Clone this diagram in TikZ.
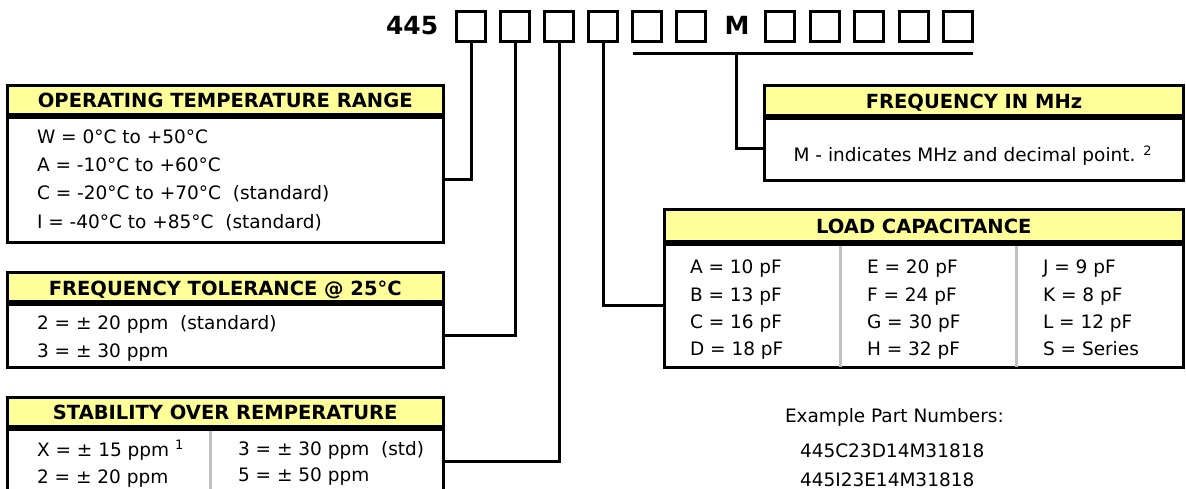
\documentclass[tikz,border=0pt]{standalone}
\usepackage{fontspec}
\setmainfont{DejaVu Sans}
\usetikzlibrary{positioning}
\definecolor{hdryellow}{HTML}{FFFF99}
\definecolor{sepgray}{HTML}{C0C0C0}

\begin{document}
\begin{tikzpicture}[
		x=1pt,y=-1pt,
		every node/.style={inner sep=0pt,outer sep=0pt},
		digit/.style={draw,line width=3pt,minimum width=29pt,minimum height=30pt},
		big/.style={font=\fontsize{25}{30}\selectfont\bfseries},
		hdr/.style={draw,line width=3pt,fill=hdryellow,anchor=north west,
			text height=14.2pt,text depth=0pt,font=\fontsize{19.5}{23}\selectfont\bfseries},
		body/.style={draw,line width=3pt},
		lbl/.style={anchor=base west,font=\fontsize{18.5}{22}\selectfont},
		sep/.style={draw=sepgray,line width=3pt},
		conn/.style={line width=3pt}
		]
		\useasboundingbox (0,0) rectangle (1186,489);
		
		% part number boxes
		\node[big,anchor=base west] (pre) at (386,35) {445};
		\node[digit] (b1) at (471,26.5) {};
		\node[digit] (b2) at (515,26.5) {};
		\node[digit] (b3) at (559,26.5) {};
		\node[digit] (b4) at (603,26.5) {};
		\node[digit] (b5) at (647,26.5) {};
		\node[digit] (b6) at (691,26.5) {};
		\node[big,anchor=base] (mk) at (737,35) {M};
		\node[digit] (b7) at (780,26.5) {};
		\node[digit] (b8) at (824.5,26.5) {};
		\node[digit] (b9) at (869,26.5) {};
		\node[digit] (b10) at (913.5,26.5) {};
		\node[digit] (b11) at (958,26.5) {};
		
		% operating temperature
		\node[hdr,minimum width=435.5pt,minimum height=31pt] (othdr) at (7.5,85.3) {OPERATING TEMPERATURE RANGE};
		\node[body,below=0pt of othdr,minimum width=435.5pt,minimum height=126pt] (otbody) {};
		\draw[line width=6pt] (othdr.south west) -- (othdr.south east);
		\node[lbl] (ot1) at (37,143.3) {W = 0°C to +50°C};
		\node[lbl] (ot2) at (37,171.7) {A = -10°C to +60°C};
		\node[lbl] (ot3) at (37,200) {C = -20°C to +70°C~ (standard)};
		\node[lbl] (ot4) at (37,228.3) {I = -40°C to +85°C~ (standard)};
		
		% frequency tolerance
		\node[hdr,minimum width=435.5pt,minimum height=30.6pt] (fthdr) at (7.5,272.7) {FREQUENCY TOLERANCE @ 25°C};
		\node[body,below=0pt of fthdr,minimum width=435.5pt,minimum height=63.7pt] (ftbody) {};
		\draw[line width=6pt] (fthdr.south west) -- (fthdr.south east);
		\node[lbl] (ft1) at (37,329) {2 = ± 20 ppm~ (standard)};
		\node[lbl] (ft2) at (37,357.3) {3 = ± 30 ppm};
		
		% stability
		\node[hdr,minimum width=435.5pt,minimum height=31pt] (sthdr) at (7.5,397.3) {STABILITY OVER REMPERATURE};
		\node[body,below=0pt of sthdr,minimum width=435.5pt,minimum height=65.4pt] (stbody) {};
		\draw[sep] (210,428.3) -- (210,495);
		\draw[line width=6pt] (sthdr.south west) -- (sthdr.south east);
		\node[lbl] (st1) at (37,456) {X = ± 15 ppm \textsuperscript{1}};
		\node[lbl] (st2) at (37,483) {2 = ± 20 ppm};
		\node[lbl] (st3) at (238,455) {3 = ± 30 ppm~ (std)};
		\node[lbl] (st4) at (238,481.7) {5 = ± 50 ppm};
		
		% frequency
		\node[hdr,minimum width=419pt,minimum height=31.6pt] (fqhdr) at (764.5,85.4) {FREQUENCY IN MHz};
		\node[body,below=0pt of fqhdr,minimum width=419pt,minimum height=64pt] (fqbody) {};
		\draw[line width=6pt] (fqhdr.south west) -- (fqhdr.south east);
		\node[lbl] (fq1) at (793.6,161.6) {M - indicates MHz and decimal point. \textsuperscript{2}};
		
		% load capacitance
		\node[hdr,minimum width=519.5pt,minimum height=33pt] (ldhdr) at (664,210) {LOAD CAPACITANCE};
		\node[body,below=0pt of ldhdr,minimum width=519.5pt,minimum height=124pt] (ldbody) {};
		\draw[sep] (840,243) -- (840,367);
		\draw[sep] (1016,243) -- (1016,367);
		\draw[line width=6pt] (ldhdr.south west) -- (ldhdr.south east);
		\node[lbl] (la) at (690,273.5) {A = 10 pF};
		\node[lbl] (lb) at (690,301) {B = 13 pF};
		\node[lbl] (lc) at (690,328.2) {C = 16 pF};
		\node[lbl] (ld) at (690,355.6) {D = 18 pF};
		\node[lbl] (le) at (867,273.5) {E = 20 pF};
		\node[lbl] (lf) at (867,301) {F = 24 pF};
		\node[lbl] (lg) at (867,328.2) {G = 30 pF};
		\node[lbl] (lh) at (867,355.6) {H = 32 pF};
		\node[lbl] (lj) at (1043,273.5) {J = 9 pF};
		\node[lbl] (lk) at (1043,301) {K = 8 pF};
		\node[lbl] (ll) at (1043,328.2) {L = 12 pF};
		\node[lbl] (ls) at (1043,355.6) {S = Series};
		
		% examples
		\node[lbl] (ex) at (785,422.7) {Example Part Numbers:};
		\node[lbl] (ex1) at (800,457) {445C23D14M31818};
		\node[lbl] (ex2) at (800,486) {445I23E14M31818};
		
		% connectors
		\draw[conn] (b1.south) |- (otbody.east);
		\draw[conn] (b2.south) |- (ftbody.east);
		\draw[conn] (b3.south) |- (stbody.east);
		\draw[conn] (b4.south) |- (ldbody.west);
		\draw[conn] ([yshift=-12pt]b5.south west) -- ([yshift=-12pt]b11.south east);
		\coordinate (brk) at (736,53.5);
		\draw[conn] (brk) |- (fqbody.west);
	\end{tikzpicture}
\end{document}
